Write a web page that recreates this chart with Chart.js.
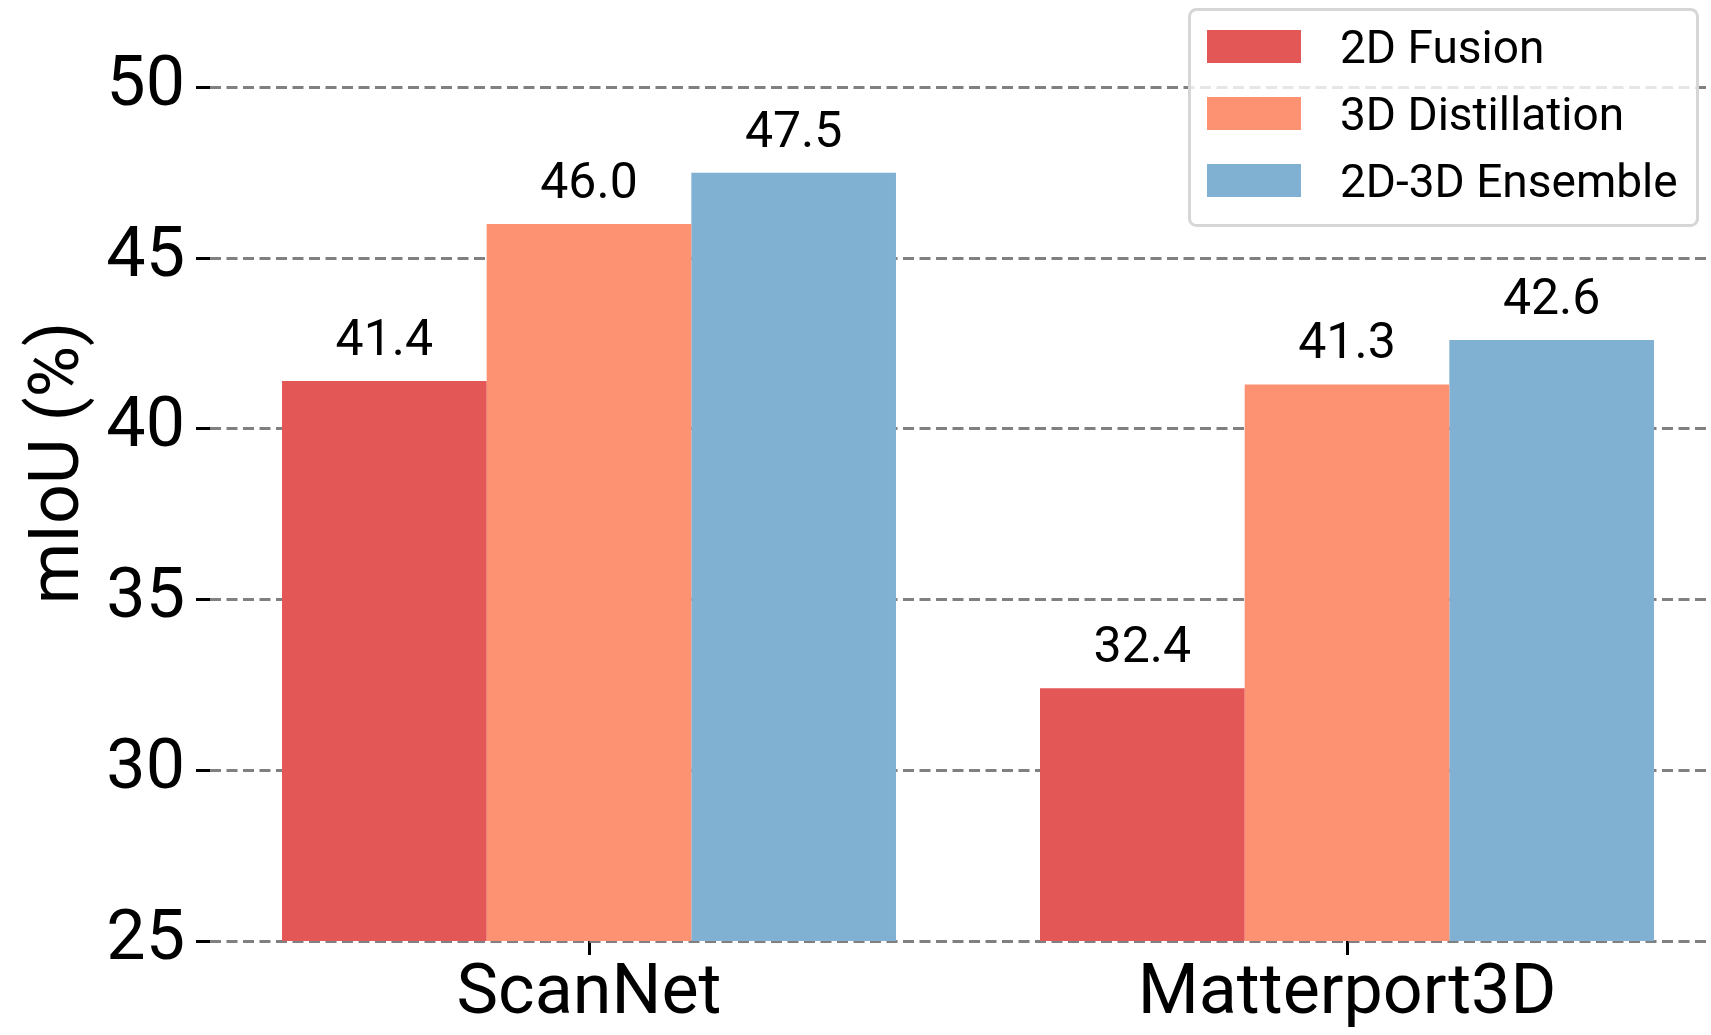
<!DOCTYPE html>
<html>
<head>
<meta charset="utf-8">
<script src="https://cdn.jsdelivr.net/npm/chart.js@4"></script>
<style>
  html, body { margin: 0; padding: 0; background: #ffffff; overflow: hidden; width: 1711px; height: 1035px; }
  #c { position: absolute; left: 0; top: -15px; }
</style>
</head>
<body>
<canvas id="c" width="1730" height="1050" style="width:1730px;height:1050px;"></canvas>
<script>
const categories = ['ScanNet', 'Matterport3D'];
const seriesNames = ['2D Fusion', '3D Distillation', '2D-3D Ensemble'];
const fusion2D = [41.4, 32.4];
const distill3D = [46.0, 41.3];
const ensemble = [47.5, 42.6];
const yTickValues = [25, 30, 35, 40, 45, 50];
const colors = ['#e45757', '#fc9272', '#80b1d3'];

const FONT = 'Roboto';
const OFFSET_Y = 15; // canvas is shifted up by this many px

const valueLabels = {
  id: 'valueLabels',
  afterDatasetsDraw(chart) {
    const ctx = chart.ctx;
    ctx.save();
    ctx.font = '50px ' + FONT;
    ctx.fillStyle = '#000';
    ctx.textAlign = 'center';
    ctx.textBaseline = 'alphabetic';
    chart.data.datasets.forEach((ds, i) => {
      const meta = chart.getDatasetMeta(i);
      meta.data.forEach((el, j) => {
        ctx.fillText(ds.data[j].toFixed(1), el.x, el.y - 26);
      });
    });
    ctx.restore();
  }
};

function roundRect(ctx, x, y, w, h, r) {
  ctx.beginPath();
  ctx.moveTo(x + r, y);
  ctx.lineTo(x + w - r, y);
  ctx.arcTo(x + w, y, x + w, y + r, r);
  ctx.lineTo(x + w, y + h - r);
  ctx.arcTo(x + w, y + h, x + w - r, y + h, r);
  ctx.lineTo(x + r, y + h);
  ctx.arcTo(x, y + h, x, y + h - r, r);
  ctx.lineTo(x, y + r);
  ctx.arcTo(x, y, x + r, y, r);
  ctx.closePath();
}

const customLegend = {
  id: 'customLegend',
  afterDraw(chart) {
    const ctx = chart.ctx;
    ctx.save();
    const bx = 1189.5, by = 9.5 + OFFSET_Y, bw = 508, bh = 216;
    roundRect(ctx, bx, by, bw, bh, 7);
    ctx.fillStyle = 'rgba(255,255,255,0.8)';
    ctx.fill();
    ctx.lineWidth = 3;
    ctx.strokeStyle = '#d6d6d6';
    ctx.stroke();
    ctx.font = '46px ' + FONT;
    ctx.textAlign = 'left';
    ctx.textBaseline = 'middle';
    chart.data.datasets.forEach((ds, i) => {
      const top = 30 + i * 67 + OFFSET_Y;
      ctx.fillStyle = ds.backgroundColor;
      ctx.fillRect(1207, top, 94, 33);
      ctx.fillStyle = '#000';
      ctx.fillText(ds.label, 1340, top + 21.5);
    });
    ctx.restore();
  }
};

new Chart(document.getElementById('c'), {
  type: 'bar',
  data: {
    labels: categories,
    datasets: [
      { label: seriesNames[0], data: fusion2D, backgroundColor: colors[0] },
      { label: seriesNames[1], data: distill3D, backgroundColor: colors[1] },
      { label: seriesNames[2], data: ensemble, backgroundColor: colors[2] }
    ]
  },
  options: {
    responsive: false,
    animation: false,
    layout: { padding: { top: 0, right: 4, left: 0, bottom: 0 } },
    datasets: {
      bar: { categoryPercentage: 0.81, barPercentage: 1.0, borderWidth: 0 }
    },
    plugins: {
      legend: { display: false },
      tooltip: { enabled: false }
    },
    scales: {
      x: {
        offset: true,
        grid: {
          display: true,
          offset: false,
          drawOnChartArea: false,
          drawTicks: true,
          tickLength: 14,
          tickColor: '#000',
          tickWidth: 3
        },
        border: { display: false },
        ticks: {
          color: '#000',
          font: { family: FONT, size: 70 },
          padding: -2,
          maxRotation: 0
        },
        afterFit(scale) {
          scale.height = 94;
          scale.paddingLeft = 0;
          scale.paddingRight = 0;
        }
      },
      y: {
        min: 25,
        max: 53,
        afterBuildTicks(scale) {
          scale.ticks = yTickValues.map(v => ({ value: v }));
        },
        grid: {
          color: '#808080',
          lineWidth: 3,
          drawTicks: true,
          tickLength: 14,
          tickColor: '#000',
          tickWidth: 3,
          tickBorderDash: []
        },
        border: { display: false, dash: [11, 5.5] },
        ticks: {
          color: '#000',
          font: { family: FONT, size: 70 },
          padding: 11
        },
        title: {
          display: true,
          text: 'mIoU (%)',
          color: '#000',
          font: { family: FONT, size: 70 },
          padding: { top: 18, bottom: 0 }
        },
        afterFit(scale) {
          scale.width = 210;
          scale.paddingTop = 0;
          scale.paddingBottom = 0;
        }
      }
    }
  },
  plugins: [valueLabels, customLegend]
});
</script>
</body>
</html>
